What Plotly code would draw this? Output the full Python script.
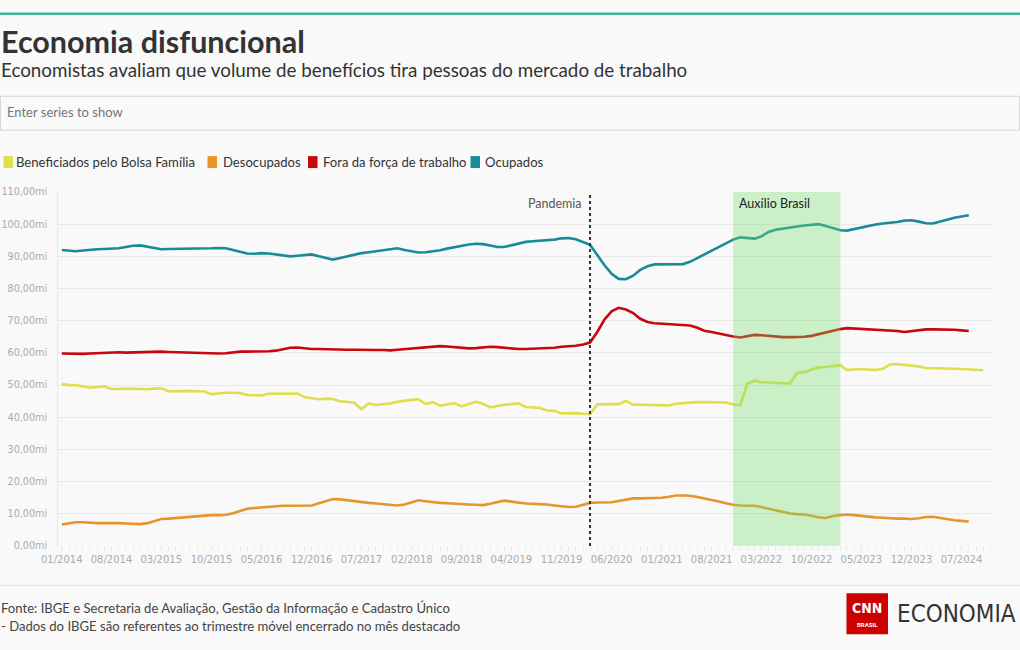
import plotly.graph_objects as go
import pandas as pd

# ---------------- data (millions), monthly from 01/2014 ----------------
ocupados = [
    92.0, 91.7, 91.6, 91.8, 92.1, 92.2, 92.3, 92.3, 92.5, 92.9, 93.3, 93.4,
    93.0, 92.5, 92.2, 92.3, 92.3, 92.4, 92.4, 92.3, 92.4, 92.5, 92.6, 92.5,
    92.0, 91.4, 90.9, 90.8, 91.0, 90.9, 90.6, 90.2, 90.0, 90.2, 90.5, 90.6,
    90.0, 89.4, 89.0, 89.5, 90.0, 90.7, 91.0, 91.3, 91.6, 92.0, 92.3, 92.5,
    92.0, 91.5, 91.2, 91.3, 91.5, 91.9, 92.4, 92.9, 93.3, 93.7, 93.9, 93.8,
    93.4, 92.9, 92.9, 93.4, 94.0, 94.5, 94.7, 94.8, 95.0, 95.2, 95.6, 95.7,
    95.3, 94.4, 93.6, 90.4, 87.3, 84.6, 83.0, 82.9, 84.0, 85.8, 86.9, 87.5,
    87.5, 87.4, 87.4, 87.6, 88.3, 89.5, 90.7, 91.9, 93.0, 94.2, 95.2, 95.9,
    95.6, 95.5, 96.2, 97.6, 98.3, 98.7, 99.0, 99.3, 99.6, 99.9, 100.0, 99.4,
    98.8, 98.1, 98.0, 98.5, 98.9, 99.3, 99.9, 100.2, 100.4, 100.7, 101.1, 101.2,
    100.8, 100.3, 100.2, 100.8, 101.6, 102.0, 102.4, 102.8,
]
fora_forca = [
    59.8, 59.7, 59.6, 59.7, 59.8, 59.9, 60.0, 60.2, 60.2, 60.1, 60.2, 60.3,
    60.4, 60.5, 60.4, 60.3, 60.2, 60.2, 60.1, 60.1, 60.0, 59.9, 59.8, 59.9,
    60.2, 60.4, 60.4, 60.4, 60.4, 60.5, 60.7, 61.2, 61.6, 61.7, 61.4, 61.2,
    61.2, 61.1, 61.0, 61.0, 61.0, 61.0, 60.9, 60.9, 60.9, 60.9, 60.8, 61.0,
    61.2, 61.4, 61.6, 61.8, 62.0, 62.1, 62.0, 61.8, 61.5, 61.4, 61.5, 61.7,
    61.9, 61.8, 61.6, 61.3, 61.2, 61.2, 61.3, 61.3, 61.4, 61.6, 61.9, 62.0,
    62.2, 62.6, 63.2, 66.5, 70.3, 72.9, 74.0, 73.5, 72.4, 70.6, 69.6, 69.2,
    69.1, 69.0, 68.9, 68.8, 68.5, 67.8, 66.9, 66.5, 66.0, 65.5, 65.1, 64.8,
    65.2, 65.6, 65.5, 65.3, 65.0, 64.9, 64.9, 64.9, 65.0, 65.3, 65.8, 66.4,
    67.0, 67.4, 67.7, 67.6, 67.5, 67.3, 67.3, 67.2, 67.0, 66.8, 66.5, 66.8,
    67.1, 67.3, 67.3, 67.3, 67.3, 67.2, 67.0, 66.8,
]
desocupados = [
    6.7, 7.1, 7.4, 7.4, 7.2, 7.1, 7.1, 7.2, 7.1, 7.0, 6.8, 6.8,
    7.1, 7.9, 8.4, 8.5, 8.7, 8.8, 9.0, 9.2, 9.5, 9.6, 9.6, 9.7,
    10.2, 10.8, 11.6, 11.8, 12.0, 12.2, 12.3, 12.5, 12.5, 12.5, 12.4, 12.6,
    13.3, 14.0, 14.6, 14.5, 14.2, 13.8, 13.6, 13.4, 13.2, 13.0, 12.8, 12.6,
    12.9, 13.6, 14.2, 13.9, 13.6, 13.4, 13.3, 13.1, 13.0, 12.9, 12.8, 12.7,
    13.1, 13.6, 14.1, 13.8, 13.4, 13.2, 13.1, 13.1, 12.9, 12.6, 12.3, 12.1,
    12.2, 12.7, 13.4, 13.5, 13.5, 13.6, 14.0, 14.5, 14.8, 14.8, 14.8, 14.8,
    15.0, 15.3, 15.7, 15.7, 15.6, 15.2, 14.8, 14.2, 13.8, 13.3, 12.8, 12.6,
    12.6, 12.5, 12.1, 11.6, 11.0, 10.4, 10.1, 9.9, 9.8, 9.4, 8.9, 8.7,
    9.3, 9.6, 9.8, 9.6, 9.3, 9.1, 8.9, 8.8, 8.6, 8.5, 8.5, 8.4,
    8.6, 9.0, 9.1, 8.7, 8.2, 8.0, 7.8, 7.6,
]
bolsa_familia = [
    50.3, 50.0, 50.0, 49.7, 49.2, 49.4, 49.6, 48.8, 48.9, 49.0, 48.9, 48.8,
    48.7, 48.9, 49.0, 48.1, 48.2, 48.3, 48.2, 48.1, 48.0, 47.2, 47.5, 47.6,
    47.6, 47.5, 46.9, 46.9, 46.8, 47.3, 47.3, 47.2, 47.2, 47.4, 46.2, 46.0,
    45.6, 45.8, 45.7, 45.0, 44.8, 44.5, 42.5, 44.3, 43.8, 44.0, 44.3, 44.8,
    45.2, 45.4, 45.6, 44.1, 44.7, 43.6, 44.0, 44.4, 43.4, 44.0, 44.8, 44.2,
    43.1, 43.5, 43.9, 44.1, 44.3, 43.2, 43.0, 42.9, 42.1, 42.0, 41.2, 41.3,
    41.3, 41.1, 41.0, 44.0, 44.0, 44.1, 44.1, 45.1, 43.9, 43.9, 43.9, 43.9,
    43.9, 43.7, 44.2, 44.4, 44.7, 44.7, 44.7, 44.7, 44.7, 44.6, 44.0, 43.8,
    50.4, 51.4, 50.9, 50.8, 50.7, 50.6, 50.5, 53.8, 54.1, 54.8, 55.5, 55.6,
    55.8, 56.2, 54.7, 54.8, 55.0, 54.8, 54.7, 55.1, 56.4, 56.5, 56.3, 56.1,
    55.8, 55.3, 55.3, 55.3, 55.3, 55.1, 55.0, 54.8, 54.7, 54.6,
]

series_names = ["Beneficiados pelo Bolsa Família", "Desocupados",
                "Fora da força de trabalho", "Ocupados"]
series_colors = ["#dde04a", "#e8942c", "#c8060c", "#178c98"]
series_values = [bolsa_familia, desocupados, fora_forca, ocupados]

y_ticks = [0, 10, 20, 30, 40, 50, 60, 70, 80, 90, 100, 110]
y_tick_labels = ["0,00mi", "10,00mi", "20,00mi", "30,00mi", "40,00mi", "50,00mi",
                 "60,00mi", "70,00mi", "80,00mi", "90,00mi", "100,00mi", "110,00mi"]

pandemia_date = "2020-03-01"
auxilio_start, auxilio_end = "2021-11-01", "2023-02-01"

dates = pd.date_range("2014-01-01", periods=len(bolsa_familia), freq="MS")

# ---------------- layout helpers (pixel -> paper) ----------------
W, H = 1020, 650
ML, MR, MT, MB = 58, 28, 191.5, 103.5
PW, PH = W - ML - MR, H - MT - MB


def px(x):
    return (x - ML) / PW


def py(y):
    return (H - MB - y) / PH


FONT = "Lato, 'Open Sans', sans-serif"

fig = go.Figure()
for name, vals, col in zip(series_names, series_values, series_colors):
    fig.add_trace(go.Scatter(
        x=dates[:len(vals)], y=vals, mode="lines", name=name,
        line=dict(color=col, width=2.6),
        hovertemplate="%{y:.2f}mi<extra>" + name + "</extra>",
    ))

shapes = []
annotations = []

# top accent line
shapes.append(dict(type="rect", xref="paper", yref="paper",
                   x0=px(0), x1=px(W), y0=py(14), y1=py(11.5),
                   fillcolor="#45b49a", line=dict(width=0), layer="above"))
# title / subtitle
annotations.append(dict(text="<b>Economia disfuncional</b>", xref="paper", yref="paper",
                        x=px(-1), y=py(40), xanchor="left", yanchor="middle",
                        showarrow=False, font=dict(family=FONT, size=30.5, color="#333333")))
annotations.append(dict(text="Economistas avaliam que volume de benefícios tira pessoas do mercado de trabalho",
                        xref="paper", yref="paper", x=px(-1), y=py(69),
                        xanchor="left", yanchor="middle", showarrow=False,
                        font=dict(family=FONT, size=18.8, color="#333333")))
# search box
shapes.append(dict(type="rect", xref="paper", yref="paper",
                   x0=px(0.5), x1=px(1019.5), y0=py(129.5), y1=py(95.5),
                   fillcolor="#fafafa", line=dict(color="#d6d6d6", width=1), layer="above"))
annotations.append(dict(text="Enter series to show", xref="paper", yref="paper",
                        x=px(5), y=py(111.5), xanchor="left", yanchor="middle",
                        showarrow=False, font=dict(family=FONT, size=13, color="#757575")))

# legend (swatch + label)
legend_swatch_x = [3.5, 207.5, 308, 470.5]
legend_text_x = [13.5, 221, 320.5, 482.5]
for sx, tx, name, col in zip(legend_swatch_x, legend_text_x, series_names, series_colors):
    shapes.append(dict(type="rect", xref="paper", yref="paper",
                       x0=px(sx), x1=px(sx + 9.5), y0=py(167.5), y1=py(155.5),
                       fillcolor=col, line=dict(width=0), layer="above"))
    annotations.append(dict(text=name, xref="paper", yref="paper",
                            x=px(tx), y=py(161.5), xanchor="left", yanchor="middle",
                            showarrow=False, font=dict(family=FONT, size=13.1, color="#333333")))

# Auxílio Brasil band (drawn above lines, translucent)
shapes.append(dict(type="rect", xref="x", yref="paper", x0=auxilio_start, x1=auxilio_end,
                   y0=0, y1=1, fillcolor="rgba(118,222,104,0.35)", line=dict(width=0),
                   layer="above"))
annotations.append(dict(text="Auxílio Brasil", xref="x", yref="y", x=auxilio_start, y=106.4,
                        xanchor="left", yanchor="middle", xshift=4, showarrow=False,
                        font=dict(family=FONT, size=12.5, color="#222222")))
# Pandemia line
shapes.append(dict(type="line", xref="x", yref="paper", x0=pandemia_date, x1=pandemia_date,
                   y0=0, y1=1, line=dict(color="#333333", width=2, dash="dot"), layer="above"))
annotations.append(dict(text="Pandemia", xref="x", yref="y", x=pandemia_date, y=106.4,
                        xanchor="right", yanchor="middle", xshift=-6, showarrow=False,
                        font=dict(family=FONT, size=12.5, color="#555555")))

# footer
shapes.append(dict(type="line", xref="paper", yref="paper", x0=px(0), x1=px(W),
                   y0=py(586), y1=py(586), line=dict(color="#dddddd", width=1)))
annotations.append(dict(text="Fonte: IBGE e Secretaria de Avaliação, Gestão da Informação e Cadastro Único",
                        xref="paper", yref="paper", x=px(-1), y=py(608.5), xanchor="left",
                        yanchor="middle", showarrow=False,
                        font=dict(family=FONT, size=13.1, color="#444444")))
annotations.append(dict(text="- Dados do IBGE são referentes ao trimestre móvel encerrado no mês destacado",
                        xref="paper", yref="paper", x=px(-1), y=py(626.5), xanchor="left",
                        yanchor="middle", showarrow=False,
                        font=dict(family=FONT, size=13.1, color="#444444")))
# CNN Brasil logo
shapes.append(dict(type="rect", xref="paper", yref="paper", x0=px(846.5), x1=px(888),
                   y0=py(635), y1=py(594), fillcolor="#cc0000", line=dict(width=0)))
annotations.append(dict(text="<b>CNN</b>", xref="paper", yref="paper", x=px(867.3), y=py(609),
                        xanchor="center", yanchor="middle", showarrow=False,
                        font=dict(family="'DejaVu Sans Condensed', Roboto, sans-serif", size=14, color="white")))
annotations.append(dict(text="<b>BRASIL</b>", xref="paper", yref="paper", x=px(867.3), y=py(625),
                        xanchor="center", yanchor="middle", showarrow=False,
                        font=dict(family="Roboto, sans-serif", size=6, color="white")))
annotations.append(dict(text="ECONOMIA", xref="paper", yref="paper", x=px(895), y=py(615),
                        xanchor="left", yanchor="middle", showarrow=False,
                        font=dict(family="'DejaVu Sans Condensed', Roboto, sans-serif", size=24, color="#333333")))

fig.update_layout(
    width=W, height=H,
    margin=dict(l=ML, r=MR, t=MT, b=MB, autoexpand=False),
    paper_bgcolor="#f9f9f9", plot_bgcolor="#f9f9f9",
    showlegend=False,
    font=dict(family=FONT),
    shapes=shapes, annotations=annotations,
    xaxis=dict(
        type="date", range=["2013-12-16", "2024-11-08"],
        tick0="2014-01-01", dtick="M7", tickformat="%m/%Y",
        ticks="outside", ticklen=4, tickcolor="#e2e2e2",
        tickfont=dict(family="DejaVu Sans", size=10, color="#aaaaaa"),
        showgrid=False, zeroline=False, showline=False,
        minor=dict(tick0="2014-01-01", dtick="M1", ticks="outside", ticklen=4,
                   tickcolor="#e8e8e8", showgrid=False),
    ),
    yaxis=dict(
        range=[0, 110], tickvals=y_ticks, ticktext=y_tick_labels,
        showgrid=True, gridcolor="#e8e8e8", gridwidth=1,
        showline=True, linecolor="#e8e8e8", zeroline=False, ticks="",
        ticklabelstandoff=8,
        tickfont=dict(family="DejaVu Sans", size=9.6, color="#aaaaaa"),
    ),
)

fig.write_html("out.html")
